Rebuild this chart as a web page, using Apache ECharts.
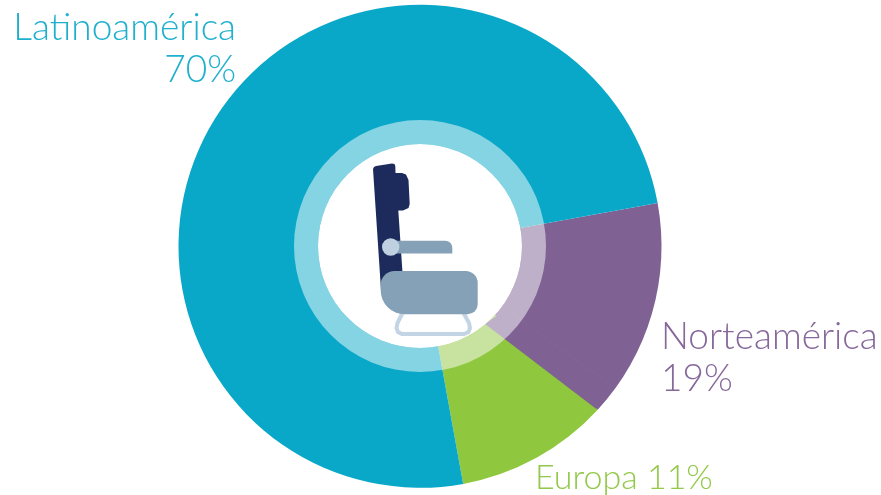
<!DOCTYPE html>
<html>
<head>
<meta charset="utf-8">
<style>html,body{margin:0;padding:0;background:#fff}#c{width:881px;height:495px}</style>
<script src="https://cdn.jsdelivr.net/npm/echarts@6/dist/echarts.min.js"></script>
</head>
<body>
<div id="c"></div>
<script>
// Regions, clockwise from the Latinoamérica / Norteamérica boundary
const regions = ['Norteamérica', 'Europa', 'Latinoamérica'];
// Wedge sizes (share of the circle, %)
const wedgeShares = [14.7, 10.3, 75.0];
// Percentages as printed on the chart
const printedLabels = ['Norteamérica\n19%', 'Europa 11%', 'Latinoamérica\n70%'];
const colors = ['#7f6194', '#8fc73e', '#0aa8c8'];
const textColors = ['#86689a', '#93c94a', '#1fb0cd'];
const labelSizes = [37, 34, 37];

const cx = 420, cy = 246.3;
const labelPos = [
  {x: 661, y: 316, align: 'left', verticalAlign: 'top'},
  {x: 535, y: 457, align: 'left', verticalAlign: 'top'},
  {x: 236, y: 7, align: 'right', verticalAlign: 'top'}
];

const chart = echarts.init(document.getElementById('c'), null, {renderer: 'canvas'});
chart.setOption({
  animation: false,
  series: [{
    type: 'pie',
    center: [cx, cy],
    radius: [0, 241.5],
    startAngle: 10.3,
    clockwise: true,
    silent: true,
    itemStyle: {borderWidth: 0},
    labelLine: {show: false},
    label: {
      show: true,
      position: 'outside',
      overflow: 'none',
      fontFamily: 'Lato',
      fontWeight: 300,
      lineHeight: 42,
      formatter: p => printedLabels[p.dataIndex],
      color: 'inherit'
    },
    labelLayout: p => labelPos[p.dataIndex],
    data: regions.map((name, i) => ({
      name,
      value: wedgeShares[i],
      itemStyle: {color: colors[i]},
      label: {color: textColors[i], align: labelPos[i].align, fontSize: labelSizes[i]}
    }))
  }],
  graphic: {elements: [
    // the purple/green edge in the source misses the centre slightly: small purple patch
    {type: 'polygon', z: 9, shape: {points: [[597, 409.6], [485, 324], [520, 300], [590, 395]]},
     style: {fill: colors[0]}},
    // faint seam in the purple wedge
    {type: 'line', z: 10, shape: {x1: 503, y1: 307, x2: 615, y2: 388},
     style: {stroke: '#866a9a', lineWidth: 0.5}},
    // translucent ring + white hub
    {type: 'ring', z: 11, shape: {cx: 420, cy: 246, r: 126, r0: 102},
     style: {fill: 'rgba(255,255,255,0.5)'}},
    {type: 'circle', z: 11, shape: {cx: 420, cy: 246, r: 102}, style: {fill: '#fff'}},
    // seat: legs
    {type: 'polyline', z: 12,
     shape: {points: [[403,312],[397.5,323],[396.5,328],[398,332],[402,334],[464,334],[468.5,332],[470,328],[469,323],[463,312]]},
     style: {fill: 'none', stroke: '#c3d4e4', lineWidth: 4}},
    // seat: back with headrest
    {type: 'polygon', z: 13,
     shape: {points: [[373,169],[374,167],[376,166],[392,163.5],[394.5,164],[395.3,166],[395.5,173],[402,173],[406,174.5],[408.5,180],[409.7,204],[408.5,208],[403,210.5],[398.3,210.5],[403,280],[381,290]]},
     style: {fill: '#1c2b5c'}},
    // seat: armrest
    {type: 'rect', z: 14, shape: {x: 390, y: 240.7, width: 62.3, height: 12.8, r: [0, 7, 0, 0]},
     style: {fill: '#84a1b8'}},
    {type: 'circle', z: 15, shape: {cx: 390.7, cy: 247, r: 8.7}, style: {fill: '#bfd0e0'}},
    // seat: cushion
    {type: 'rect', z: 16, shape: {x: 380.7, y: 271, width: 97, height: 43.3, r: [14, 12, 10, 24]},
     style: {fill: '#84a1b8'}}
  ]}
});
</script>
</body>
</html>
